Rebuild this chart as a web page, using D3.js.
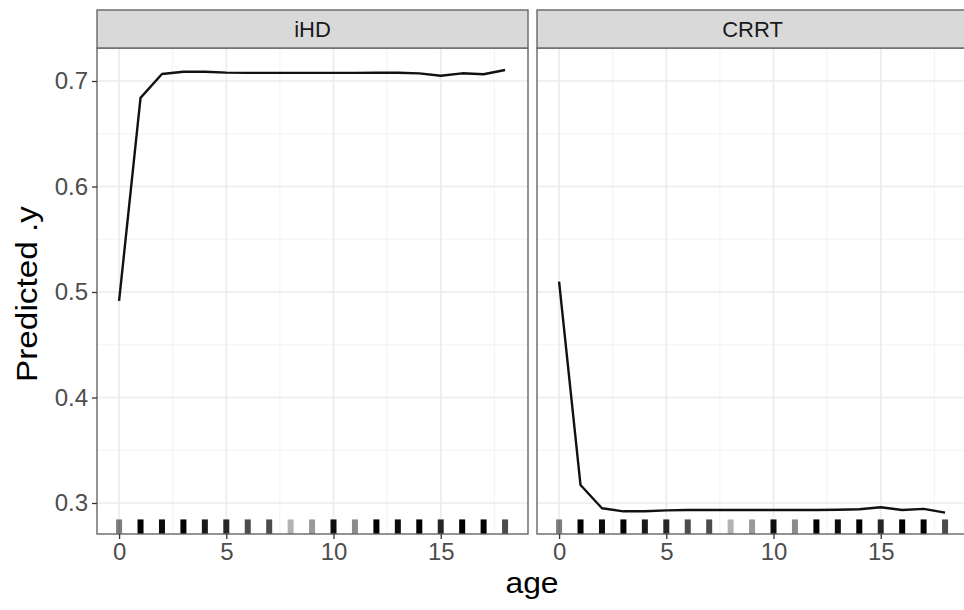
<!DOCTYPE html>
<html><head><meta charset="utf-8">
<script src="https://cdn.jsdelivr.net/npm/d3@7"></script>
<style>body{margin:0;background:#fff}svg{display:block}</style>
</head><body><svg id="c" width="964" height="610"></svg>
<script>
const panels = ["iHD", "CRRT"];
const ages = [0,1,2,3,4,5,6,7,8,9,10,11,12,13,14,15,16,17,18];
const iHD = [0.4915,0.684,0.7066,0.7088,0.7088,0.708,0.7077,0.7077,0.7077,0.7077,0.7077,0.7077,0.7078,0.7078,0.7072,0.7050,0.7073,0.7064,0.7104];
const CRRT = [0.5098,0.317,0.295,0.2921,0.2921,0.2930,0.2933,0.2934,0.2934,0.2934,0.2934,0.2934,0.2934,0.2936,0.2940,0.2959,0.2934,0.2944,0.2909];
const rugShade = [0.5,1,0.95,1,0.9,0.85,0.7,0.7,0.3,0.4,0.95,0.45,1,0.95,1,0.85,1,1,0.7];
const xTicks = [0,5,10,15];
const yTicks = [0.3,0.4,0.5,0.6,0.7];
const seriesByPanel = {iHD: iHD, CRRT: CRRT};

(function(){
const svg = d3.select("#c");
const font = "'Liberation Sans', Arial, Helvetica, sans-serif";
const panelW = 431, gap = 9, pLeft = 97, pTop = 48, pBottom = 534, stripTop = 10;
const y = d3.scaleLinear().domain([0.2706, 0.7313]).range([pBottom, pTop]);

panels.forEach((p, i) => {
  const x0 = pLeft + i * (panelW + gap);
  const x = d3.scaleLinear().domain([-1.03, 19.07]).range([x0, x0 + panelW]);
  const g = svg.append("g");
  const xMinor = d3.range(-2.5, 20, 5).filter(v => v > -1.03 && v < 19.07);
  const yMinor = [0.35,0.45,0.55,0.65];
  g.selectAll(".vmin").data(xMinor).join("line")
    .attr("x1", d => x(d)).attr("x2", d => x(d)).attr("y1", pTop).attr("y2", pBottom)
    .attr("stroke", "#f2f2f2").attr("stroke-width", 1);
  g.selectAll(".hmin").data(yMinor).join("line")
    .attr("x1", x0).attr("x2", x0 + panelW).attr("y1", d => y(d)).attr("y2", d => y(d))
    .attr("stroke", "#f2f2f2").attr("stroke-width", 1);
  g.selectAll(".vmaj").data(xTicks).join("line")
    .attr("x1", d => x(d)).attr("x2", d => x(d)).attr("y1", pTop).attr("y2", pBottom)
    .attr("stroke", "#ebebeb").attr("stroke-width", 1.6);
  g.selectAll(".hmaj").data(yTicks).join("line")
    .attr("x1", x0).attr("x2", x0 + panelW).attr("y1", d => y(d)).attr("y2", d => y(d))
    .attr("stroke", "#ebebeb").attr("stroke-width", 1.6);
  const rugH = (pBottom - pTop) * 0.03;
  g.selectAll(".rug").data(ages).join("rect")
    .attr("x", d => x(d - 0.14)).attr("width", d => x(d + 0.14) - x(d - 0.14))
    .attr("y", pBottom - rugH).attr("height", rugH)
    .attr("fill", "#000").attr("fill-opacity", (d, k) => rugShade[k]);
  const vals = seriesByPanel[p];
  g.append("path").datum(ages)
    .attr("d", d3.line().x(d => x(d)).y((d, k) => y(vals[k])))
    .attr("fill", "none").attr("stroke", "#111").attr("stroke-width", 2.4)
    .attr("stroke-linejoin", "round");
  g.append("rect").attr("x", x0).attr("y", pTop).attr("width", panelW).attr("height", pBottom - pTop)
    .attr("fill", "none").attr("stroke", "#666").attr("stroke-width", 1.4);
  g.append("rect").attr("x", x0).attr("y", stripTop).attr("width", panelW).attr("height", pTop - stripTop)
    .attr("fill", "#d9d9d9").attr("stroke", "#666").attr("stroke-width", 1.4);
  g.append("text").attr("x", x0 + panelW / 2).attr("y", pTop - (pTop - stripTop) / 2)
    .attr("text-anchor", "middle").attr("dominant-baseline", "central")
    .attr("font-family", font).attr("font-size", 22).attr("fill", "#1a1a1a").text(p);
  const xa = svg.append("g").attr("transform", `translate(0,${pBottom})`)
    .call(d3.axisBottom(x).tickValues(xTicks).tickSize(5).tickPadding(4).tickFormat(d3.format("d")));
  xa.select(".domain").remove();
  xa.selectAll("line").attr("stroke", "#333").attr("stroke-width", 1.3);
  xa.selectAll("text").attr("font-family", font).attr("font-size", 24).attr("fill", "#4d4d4d");
});

const ya = svg.append("g").attr("transform", `translate(${pLeft},0)`)
  .call(d3.axisLeft(y).tickValues(yTicks).tickSize(5).tickPadding(4).tickFormat(d3.format(".1f")));
ya.select(".domain").remove();
ya.selectAll("line").attr("stroke", "#333").attr("stroke-width", 1.3);
ya.selectAll("text").attr("font-family", font).attr("font-size", 24).attr("fill", "#4d4d4d");

svg.append("text").attr("x", 532).attr("y", 593)
  .attr("text-anchor", "middle").attr("font-family", font).attr("font-size", 29)
  .attr("textLength", 53).attr("lengthAdjust", "spacingAndGlyphs").attr("fill", "#000").text("age");
svg.append("text").attr("transform", `translate(37,294) rotate(-90)`)
  .attr("text-anchor", "middle").attr("font-family", font).attr("font-size", 29)
  .attr("textLength", 176).attr("lengthAdjust", "spacingAndGlyphs").attr("fill", "#000").text("Predicted .y");
})();
</script></body></html>
